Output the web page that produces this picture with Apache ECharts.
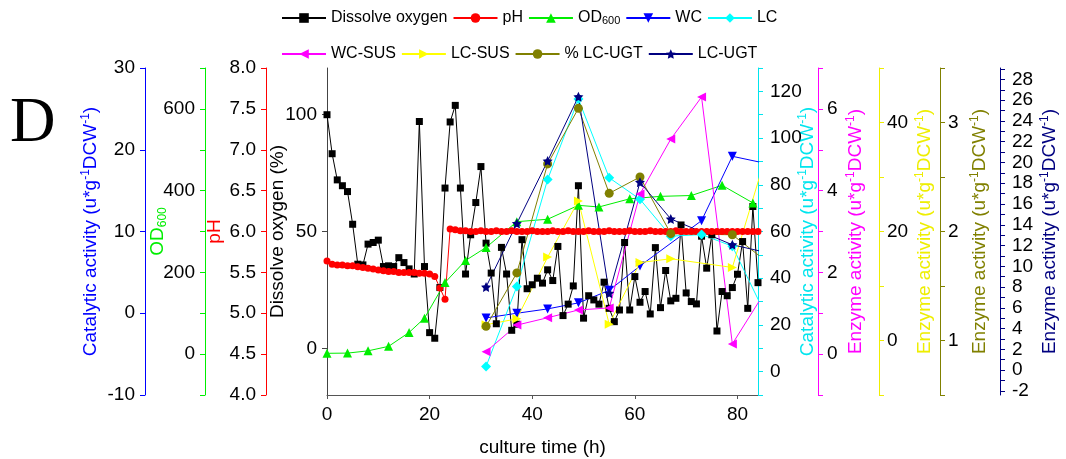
<!DOCTYPE html>
<html><head><meta charset="utf-8">
<script src="https://cdn.jsdelivr.net/npm/echarts@6/dist/echarts.min.js"></script>
<style>html,body{margin:0;padding:0;background:#fff}#c{width:1066px;height:459px}</style>
</head><body><div id="c"></div>
<script>
// ---- data ----
const hours = [0,1,2,3,4,5,6,7,8,9,10,11,12,13,14,15,16,17,18,19,20,21,22,23,24,25,26,27,28,29,30,31,32,33,34,35,36,37,38,39,40,41,42,43,44,45,46,47,48,49,50,51,52,53,54,55,56,57,58,59,60,61,62,63,64,65,66,67,68,69,70,71,72,73,74,75,76,77,78,79,80,81,82,83,84];
const doValues = [100,83.3,72.1,69.6,67.1,53.1,36,35.7,44.6,45.3,46.3,35,35.3,35,38.8,36.7,34,31.8,97.1,35,6.7,4.3,26,68.6,96.9,104,68.6,31.8,48.6,62.4,77.8,45,32.2,10.5,43.2,31.8,7.7,10.3,46.5,25.5,27.2,30,27.9,33.6,29,43.6,14,18.9,26.7,69.6,12.9,22.5,20.7,18.9,28.3,17.1,11.4,16.4,45.3,16.4,30.7,19.7,24.3,14.7,43.1,17.4,33.3,20.3,21.4,52.8,23.7,20,19,48,34.3,48.6,7.4,24.3,22.5,26,31.7,45.7,17.1,60.7,28.1];
const phValues = [5.64,5.60,5.59,5.59,5.58,5.58,5.57,5.56,5.55,5.54,5.53,5.52,5.51,5.51,5.50,5.50,5.50,5.50,5.49,5.49,5.48,5.45,5.31,5.17,6.03,6.02,6.01,6.01,6.00,6.00,6.01,6.00,6.00,6.01,6.00,6.00,6.01,6.00,6.00,6.00,6.01,6.00,6.00,6.00,6.01,6.00,6.00,6.01,6.00,6.00,6.00,6.01,6.00,6.00,6.00,6.01,6.00,6.00,6.00,6.01,6.00,6.00,6.00,6.01,6.00,6.00,6.00,6.00,6.01,6.00,6.00,6.00,6.00,6.00,6.00,6.00,6.00,6.00,6.00,6.00,6.00,6.00,6.00,6.00,6.00];
const odHours = [0,4,8,12,16,19,23,27,31,37,43,49,53,59,65,71,77,83];
const odValues = [2,2.5,8,19,53,88,175,229,261,324,330,364,360,380,386,388,413,370];
const sampleHours = [31,37,43,49,55,61,67,73,79,85];
const wcValues    = [-0.57,0,0.53,1.27,2.8,5.79,null,11.33,19.2,18.4];
const lcValues    = [2.2,36.5,82.3,116.7,83,73.8,58,58.7,53.7,26.5];
const wcSusValues = [0.06,0.71,0.89,1.08,1.13,3.92,5.26,6.29,0.25,1.45];
const lcSusValues = [2.9,3.97,15.3,25.6,3.0,14.3,15.0,null,13.4,32.2];
const pctUgtValues= [1.13,1.62,2.62,3.13,2.35,2.50,1.98,null,1.97,1.75];
const lcUgtValues = [8.0,14.13,20.14,26.34,7.4,18.1,14.56,null,12.07,11.4];

const xTicks = [0,20,40,60,80];
const doTicks = [0,50,100];
const phTicks = [4,4.5,5,5.5,6,6.5,7,7.5,8];
const odTicks = [-100,0,100,200,300,400,500,600,700];
const odLabels = [0,200,400,600];
const catTicks = [-10,0,10,20,30];
const lcTicks = [-10,0,10,20,30,40,50,60,70,80,90,100,110,120,130];
const lcLabels = [0,20,40,60,80,100,120];
const wcSusTicks = [-1,0,1,2,3,4,5,6,7];
const wcSusLabels = [0,2,4,6];
const lcSusTicks = [-10,0,10,20,30,40,50];
const lcSusLabels = [0,20,40];
const pctTicks = [0.5,1,1.5,2,2.5,3,3.5];
const pctLabels = [1,2,3];
const ugtTicks = [-2,-1,0,1,2,3,4,5,6,7,8,9,10,11,12,13,14,15,16,17,18,19,20,21,22,23,24,25,26,27,28,29];
const ugtLabels = [-2,0,2,4,6,8,10,12,14,16,18,20,22,24,26,28];

// ---- chart ----
const FONT = '"Liberation Sans", Arial, sans-serif';
const ENZ = 'Enzyme activity (u*g{s|-1}DCW{s|-1})';
const CAT = 'Catalytic activity (u*g{s|-1}DCW{s|-1})';

function yAx(o) {
  return {
    type: 'value', position: o.pos, offset: o.offset, min: o.min, max: o.max,
    name: o.name, nameLocation: 'middle', nameRotate: 90, nameGap: o.gap, nameMoveOverlap: false,
    nameTextStyle: { color: o.tcolor || o.color, fontSize: 19, fontFamily: FONT, lineHeight: 22,
      rich: { s: { color: o.tcolor || o.color, fontSize: 12, lineHeight: 12, verticalAlign: 'top', fontFamily: FONT },
              b: { color: o.tcolor || o.color, fontSize: 12, lineHeight: 12, verticalAlign: 'bottom', fontFamily: FONT } } },
    axisLine: { show: true, lineStyle: { color: o.color, width: 1 } },
    axisTick: { show: true, inside: false, length: 5, lineStyle: { color: o.color }, customValues: o.ticks },
    axisLabel: { show: true, color: '#000', fontSize: 19, fontFamily: FONT, margin: o.margin || 10,
      customValues: o.labels || o.ticks, formatter: o.fmt },
    splitLine: { show: false }
  };
}

const wrap = (xs, ys) => xs.map((x, i) => [x, ys[i]]);
const star = 'path://M0,-10 L2.9,-4 L9.5,-3.1 L4.7,1.5 L5.9,8.1 L0,5 L-5.9,8.1 L-4.7,1.5 L-9.5,-3.1 L-2.9,-4 Z';

function ser(name, yi, color, data, symbol, size, rot) {
  return { name, type: 'line', yAxisIndex: yi, data, symbol, symbolSize: size, symbolRotate: rot || 0,
    connectNulls: true, clip: true, lineStyle: { color, width: 1 }, itemStyle: { color },
    emphasis: { disabled: true } };
}

const legendText = { fontSize: 16, fontFamily: FONT, color: '#000',
  rich: { b: { fontSize: 11, lineHeight: 11, verticalAlign: 'bottom', fontFamily: FONT, color: '#000' } } };

const option = {
  animation: false,
  backgroundColor: '#fff',
  grid: { left: 327, right: 308, top: 68, bottom: 64, outerBoundsMode: 'none' },
  graphic: [{ type: 'text', left: 10, top: 93, style: { text: 'D', font: '63px "Liberation Serif", "Times New Roman", serif', fill: '#000' } }],
  legend: [
    { data: ['Dissolve oxygen','pH','OD600','WC','LC'], left: 276, top: 5, itemWidth: 44, itemHeight: 12, itemGap: 5,
      selectedMode: false, textStyle: legendText, formatter: n => n === 'OD600' ? 'OD{b|600}' : n },
    { data: ['WC-SUS','LC-SUS','% LC-UGT','LC-UGT'], left: 276, top: 41, itemWidth: 44, itemHeight: 12, itemGap: 5,
      selectedMode: false, textStyle: legendText }
  ],
  xAxis: { type: 'value', min: 0, max: 84, name: 'culture time (h)', nameLocation: 'middle', nameGap: 43, nameMoveOverlap: false,
    nameTextStyle: { color: '#000', fontSize: 19, fontFamily: FONT },
    axisLine: { show: true, onZero: false, lineStyle: { color: '#555' } },
    axisTick: { show: true, length: 4, lineStyle: { color: '#555' }, customValues: xTicks },
    axisLabel: { color: '#000', fontSize: 19, fontFamily: FONT, margin: 10, customValues: xTicks },
    splitLine: { show: false } },
  yAxis: [
    yAx({ pos: 'left', offset: 0, min: -20, max: 120, name: 'Dissolve oxygen (%)', color: '#444', tcolor: '#000', gap: 38, ticks: doTicks }),
    yAx({ pos: 'left', offset: 61, min: 4, max: 8, name: 'pH', color: '#ff0000', gap: 40, ticks: phTicks, fmt: v => Number(v).toFixed(1) }),
    yAx({ pos: 'left', offset: 122, min: -100, max: 700, name: 'OD{b|600}', color: '#00ee00', gap: 36, ticks: odTicks, labels: odLabels }),
    yAx({ pos: 'left', offset: 182, min: -10, max: 30, name: CAT, color: '#0000ff', gap: 43, ticks: catTicks }),
    yAx({ pos: 'right', offset: 0, min: -10, max: 130, name: CAT, color: '#00e5ee', gap: 39, ticks: lcTicks, labels: lcLabels, margin: 12 }),
    yAx({ pos: 'right', offset: 60, min: -1, max: 7, name: ENZ, color: '#ff00ff', gap: 27, ticks: wcSusTicks, labels: wcSusLabels, margin: 9 }),
    yAx({ pos: 'right', offset: 121, min: -10, max: 50, name: ENZ, color: '#eeee00', gap: 35, ticks: lcSusTicks, labels: lcSusLabels, margin: 8 }),
    yAx({ pos: 'right', offset: 182, min: 0.5, max: 3.5, name: ENZ, color: '#808000', gap: 29, ticks: pctTicks, labels: pctLabels, margin: 8 }),
    yAx({ pos: 'right', offset: 242, min: -2.4, max: 29.1, name: ENZ, color: '#000080', gap: 39, ticks: ugtTicks, labels: ugtLabels, margin: 12 })
  ],
  series: [
    ser('Dissolve oxygen', 0, '#000000', wrap(hours, doValues), 'rect', 7),
    ser('pH', 1, '#ff0000', wrap(hours, phValues), 'circle', 7),
    ser('OD600', 2, '#00ee00', wrap(odHours, odValues), 'triangle', 9),
    ser('WC', 3, '#0000ff', wrap(sampleHours, wcValues), 'triangle', 9, 180),
    ser('LC', 4, '#00ffff', wrap(sampleHours, lcValues), 'diamond', 10),
    ser('WC-SUS', 5, '#ff00ff', wrap(sampleHours, wcSusValues), 'triangle', 9, 90),
    ser('LC-SUS', 6, '#ffff00', wrap(sampleHours, lcSusValues), 'triangle', 9, -90),
    ser('% LC-UGT', 7, '#808000', wrap(sampleHours, pctUgtValues), 'circle', 9),
    ser('LC-UGT', 8, '#000080', wrap(sampleHours, lcUgtValues), star, 10)
  ]
};
echarts.init(document.getElementById('c')).setOption(option);
</script></body></html>
